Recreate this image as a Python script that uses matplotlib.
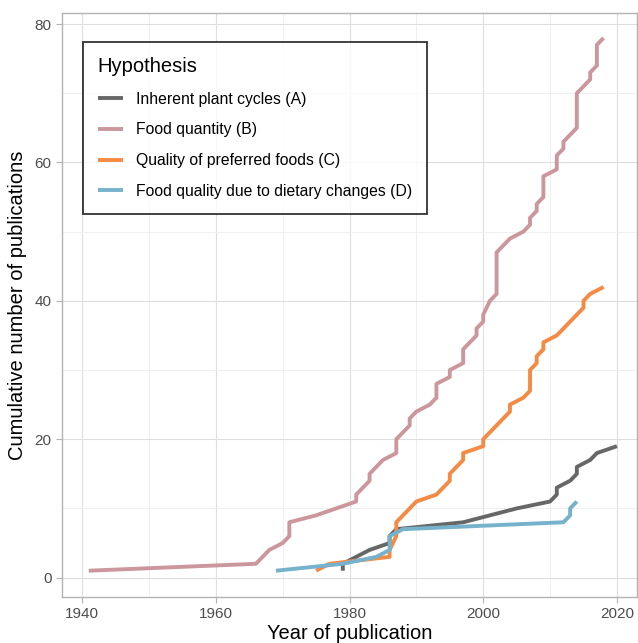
import matplotlib
matplotlib.use('Agg')
import matplotlib.pyplot as plt
from matplotlib.ticker import MultipleLocator

plt.rcParams['font.family'] = ['Liberation Sans', 'DejaVu Sans']

# cumulative publications per hypothesis (year, running count)
years_a = [1979, 1979, 1981, 1983, 1986, 1986, 1987, 1997, 2001, 2005, 2010,
           2011, 2011, 2013, 2014, 2014, 2016, 2017, 2020]
count_a = [1, 2, 3, 4, 5, 6, 7, 8, 9, 10, 11, 12, 13, 14, 15, 16, 17, 18, 19]

years_b = [1941, 1966, 1968, 1970, 1971, 1971, 1975, 1978, 1981, 1981, 1983,
           1983, 1985, 1987, 1987, 1989, 1989, 1990, 1992, 1993, 1993, 1995,
           1995, 1997, 1997, 1999, 1999, 2000, 2000, 2001, 2002, 2002, 2003,
           2004, 2006, 2007, 2007, 2008, 2008, 2009, 2009, 2011, 2011, 2012,
           2012, 2014, 2014, 2016, 2016, 2017, 2017, 2018]
count_b = [1, 2, 4, 5, 6, 8, 9, 10, 11, 12, 14, 15, 17, 18, 20, 22, 23, 24,
           25, 26, 28, 29, 30, 31, 33, 35, 36, 37, 38, 40, 41, 47, 48, 49, 50,
           51, 52, 53, 54, 55, 58, 59, 61, 62, 63, 65, 70, 72, 73, 74, 77, 78]

years_c = [1975, 1977, 1986, 1986, 1987, 1987, 1990, 1993, 1995, 1995, 1997,
           1997, 2000, 2000, 2004, 2004, 2006, 2007, 2007, 2008, 2008, 2009,
           2009, 2011, 2015, 2015, 2016, 2018]
count_c = [1, 2, 3, 4, 6, 8, 11, 12, 14, 15, 17, 18, 19, 20, 24, 25, 26, 27,
           30, 31, 32, 33, 34, 35, 39, 40, 41, 42]

years_d = [1969, 1979, 1984, 1986, 1986, 1988, 2012, 2013, 2013, 2014]
count_d = [1, 2, 3, 4, 6, 7, 8, 9, 10, 11]

labels = ['Inherent plant cycles (A)', 'Food quantity (B)',
          'Quality of preferred foods (C)', 'Food quality due to dietary changes (D)']
colors = ['#676767', '#CC979C', '#F58A45', '#76B2CB']

fig = plt.figure(figsize=(6.38, 6.43), dpi=100)
ax = fig.add_axes([62/638, 46/643, 575/638, 584/643])

series = [(years_a, count_a), (years_b, count_b), (years_c, count_c), (years_d, count_d)]
for (x, y), lab, col in zip(series, labels, colors):
    ax.plot(x, y, color=col, lw=2.8, label=lab, solid_capstyle='butt')

ax.set_xlim(1937, 2023)
ax.set_ylim(-2.8, 81.6)
ax.xaxis.set_major_locator(MultipleLocator(20))
ax.xaxis.set_minor_locator(MultipleLocator(10))
ax.yaxis.set_major_locator(MultipleLocator(20))
ax.yaxis.set_minor_locator(MultipleLocator(10))
ax.grid(which='major', color='#DEDEDE', lw=0.8)
ax.grid(which='minor', color='#EDEDED', lw=0.6)
ax.set_axisbelow(True)
for s in ax.spines.values():
    s.set_color('#B3B3B3')
    s.set_linewidth(1.0)
ax.tick_params(which='major', colors='#B3B3B3', labelcolor='#4D4D4D',
               labelsize=11, length=4, width=0.8)
ax.tick_params(which='minor', length=0)

ax.set_xlabel('Year of publication', fontsize=14.5, labelpad=2)
ax.set_ylabel('Cumulative number of publications', fontsize=14.5)
ax.yaxis.set_label_coords(-0.061, 0.5)

leg = ax.legend(loc='upper left', bbox_to_anchor=(0.036, 0.95), title='Hypothesis',
                fontsize=11.3, title_fontsize=14.5, frameon=True, fancybox=False,
                edgecolor='black', handlelength=1.6, handletextpad=0.85,
                labelspacing=1.0, borderpad=0.95, borderaxespad=0, alignment='left')
leg.get_frame().set_linewidth(1.3)

fig.savefig('out.png', dpi=100)
